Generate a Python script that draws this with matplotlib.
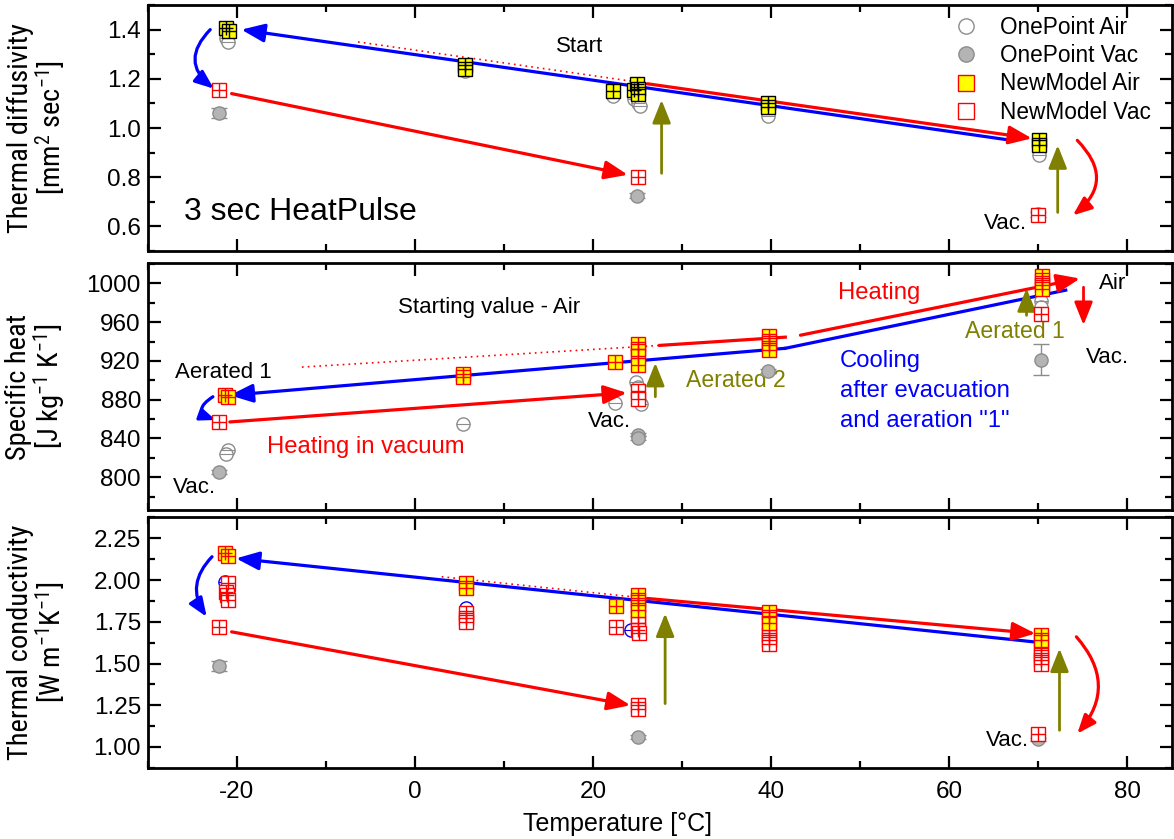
import matplotlib
matplotlib.use("Agg")
import matplotlib.pyplot as plt
from matplotlib import font_manager
from matplotlib.lines import Line2D
from matplotlib.ticker import MultipleLocator, FormatStrFormatter

# ---------------- data ----------------
# thermal diffusivity [mm2/s]
td_opa_x = [-21.2, -21.0, 5.6, 22.3, 24.6, 25.0, 25.3, 39.6, 70.1]
td_opa_y = [1.365, 1.35, 1.23, 1.13, 1.12, 1.10, 1.09, 1.05, 0.89]
td_opv_x = [-22.0, 24.9, 70.0]
td_opv_y = [1.06, 0.725, 0.65]
td_opv_e = [0.02, 0.01, 0.01]
td_nma_x = [-21.2, -20.9, 5.6, 5.6, 22.3, 24.6, 24.9, 25.0, 25.1, 39.6, 39.6, 70.1, 70.1]
td_nma_y = [1.405, 1.395, 1.255, 1.24, 1.15, 1.155, 1.18, 1.16, 1.14, 1.10, 1.085, 0.95, 0.93]
td_nmv_x = [-22.0, 25.0, 70.0]
td_nmv_y = [1.155, 0.80, 0.648]

# specific heat [J/kg/K]
sh_opa_x = [-21.0, -21.2, 5.4, 22.5, 24.8, 25.0, 25.2, 25.4, 70.3, 70.3]
sh_opa_y = [828, 824, 855, 877, 898, 893, 879, 876, 982, 976]
sh_opv_x = [-22.0, 25.0, 25.1, 39.7, 70.3]
sh_opv_y = [805, 844, 840, 910, 921]
sh_opv_e = [2, 2, 2, 2, 16]
sh_nma_x = [-21.3, -21.0, 5.4, 5.4, 22.5, 25.0, 25.1, 25.0, 25.1, 39.8, 39.8, 39.8, 39.8,
            70.4, 70.4, 70.4, 70.4]
sh_nma_y = [885, 883, 906, 903, 919, 937, 932, 925, 916, 946, 941, 936, 931,
            1008, 1003, 998, 994]
sh_nmv_x = [-22.0, 25.1, 25.1, 70.3]
sh_nmv_y = [857, 889, 881, 968]

# thermal conductivity [W/m/K]
tc_opa_x = [-21.3, -21.0, 5.7, 22.6, 24.3, 25.2, 39.8, 39.8, 70.3, 70.3]
tc_opa_y = [1.99, 1.94, 1.83, 1.72, 1.70, 1.68, 1.72, 1.64, 1.54, 1.50]
tc_opv_x = [-22.0, 25.0, 70.0]
tc_opv_y = [1.485, 1.06, 1.045]
tc_opv_e = [0.03, 0.01, 0.01]
tc_nma_x = [-21.3, -21.0, 5.7, 5.7, 22.6, 25.0, 25.0, 25.1, 25.0, 39.8, 39.8, 39.8, 70.3, 70.3]
tc_nma_y = [2.16, 2.145, 1.98, 1.955, 1.845, 1.91, 1.88, 1.85, 1.82, 1.81, 1.78, 1.74, 1.67, 1.64]
tc_nmv_x = [-21.0, -21.2, -21.1, -21.0, -22.0, 5.7, 5.7, 5.7, 22.6, 25.0, 25.1, 25.0, 25.2,
            25.0, 25.0, 39.8, 39.8, 39.8, 39.8, 70.3, 70.3, 70.3, 70.3, 70.0]
tc_nmv_y = [1.98, 1.93, 1.91, 1.88, 1.72, 1.80, 1.77, 1.75, 1.72, 1.78, 1.74, 1.70, 1.68,
            1.25, 1.23, 1.70, 1.67, 1.64, 1.62, 1.58, 1.55, 1.52, 1.50, 1.08]

labels = ["OnePoint Air", "OnePoint Vac", "NewModel Air", "NewModel Vac"]

# ---------------- fonts ----------------
plt.rcParams['font.family'] = ['Liberation Sans', 'DejaVu Sans']
plt.rcParams['axes.unicode_minus'] = False

# the y labels of the original use a narrow face; take one if it is there
names = {f.name for f in font_manager.fontManager.ttflist}
if "Liberation Sans Narrow" in names:
    lab_kw = dict(family="Liberation Sans Narrow", fontsize=21.5)
    math_font = "Liberation Sans Narrow"
elif "Roboto Condensed" in names:
    lab_kw = dict(family="Roboto Condensed", fontsize=20.5)
    math_font = "Roboto Condensed"
else:
    lab_kw = dict(family="Liberation Sans", fontsize=17.5)
    math_font = "Liberation Sans"
plt.rcParams['mathtext.fontset'] = 'custom'
plt.rcParams['mathtext.rm'] = math_font
plt.rcParams['mathtext.it'] = math_font

OLIVE = "#808000"
GREY = "#8c8c8c"


def arrow(ax, x0, y0, x1, y1, color, rad=0.0, lw=2.3, ls="-", ms=20):
    ax.annotate("", xy=(x1, y1), xytext=(x0, y0),
                arrowprops=dict(arrowstyle="-|>,head_length=0.7,head_width=0.28",
                                mutation_scale=ms, color=color, lw=lw, ls=ls,
                                shrinkA=0, shrinkB=0,
                                connectionstyle="arc3,rad=%g" % rad))


def points(ax, opa_x, opa_y, opv_x, opv_y, opv_e, nma_x, nma_y, nmv_x, nmv_y,
           nm_edge="red", op_edge=GREY):
    ms = 9.5
    ax.errorbar(opv_x, opv_y, yerr=opv_e, fmt="o", ms=ms, mfc="#b4b4b4", mec=GREY,
                ecolor=GREY, capsize=6, elinewidth=1, mew=1, zorder=3)
    ax.plot(opa_x, opa_y, "o", ms=ms, mfc="white", mec=op_edge, mew=1, zorder=3)
    ax.plot(opa_x, opa_y, "_", ms=ms, color=op_edge, mew=0.8, zorder=3)
    ax.plot(nmv_x, nmv_y, "s", ms=ms, mfc="white", mec="red", mew=1, zorder=4)
    ax.plot(nmv_x, nmv_y, "+", ms=ms, color="red", mew=1, zorder=4)
    ax.plot(nma_x, nma_y, "s", ms=ms, mfc="yellow", mec=nm_edge, mew=1, zorder=5)
    ax.plot(nma_x, nma_y, "+", ms=ms, color=nm_edge, mew=1, zorder=5)


def style(ax, ylim, major, minor, ylabel, show_x=False):
    ax.set_xlim(-30, 85)
    ax.set_ylim(*ylim)
    ax.xaxis.set_major_locator(MultipleLocator(20))
    ax.xaxis.set_minor_locator(MultipleLocator(10))
    ax.yaxis.set_major_locator(MultipleLocator(major))
    ax.yaxis.set_minor_locator(MultipleLocator(minor))
    ax.tick_params(which="both", direction="in", top=True, right=True, width=1.6,
                   labelsize=17.5, pad=5)
    ax.tick_params(which="major", length=9)
    ax.tick_params(which="minor", length=5)
    if not show_x:
        ax.tick_params(labelbottom=False)
    for s in ax.spines.values():
        s.set_linewidth(2)
    ax.set_ylabel(ylabel, linespacing=1.0, **lab_kw)
    ax.yaxis.set_label_coords(-0.078, 0.5)


fig = plt.figure(figsize=(11.74, 8.39), dpi=100)
ax1 = fig.add_axes([0.126, 0.7008, 0.872, 0.2932])
ax2 = fig.add_axes([0.126, 0.392, 0.872, 0.2945])
ax3 = fig.add_axes([0.126, 0.0846, 0.872, 0.2992])

# ---------------- top: thermal diffusivity ----------------
points(ax1, td_opa_x, td_opa_y, td_opv_x, td_opv_y, td_opv_e,
       td_nma_x, td_nma_y, td_nmv_x, td_nmv_y, nm_edge="black")
ax1.plot([-6.4, 24.4], [1.35, 1.19], color="red", ls=(0, (1, 2.5)), lw=1.2)
arrow(ax1, 67, 0.95, -19.5, 1.40, "blue")
arrow(ax1, 26.1, 1.18, 69.3, 0.958, "red")
arrow(ax1, -20.6, 1.14, 23.9, 0.81, "red")
arrow(ax1, -23.0, 1.40, -22.6, 1.16, "blue", rad=0.55, ms=16)
arrow(ax1, 27.7, 0.816, 27.7, 1.114, OLIVE, lw=2)
arrow(ax1, 72.2, 0.657, 72.2, 0.93, OLIVE, lw=2)
arrow(ax1, 74.4, 0.95, 73.9, 0.645, "red", rad=-0.55, ms=16)
ax1.text(18.5, 1.33, "Start", fontsize=16, ha="center", va="center")
ax1.text(-26, 0.66, "3 sec HeatPulse", fontsize=23, ha="left", va="center")
ax1.text(68.8, 0.612, "Vac.", fontsize=16, ha="right", va="center")
style(ax1, (0.5, 1.5), 0.2, 0.1,
      "Thermal diffusivity\n[mm$^{2}$ sec$^{-1}$]")
ax1.yaxis.set_major_formatter(FormatStrFormatter("%.1f"))

handles = [
    Line2D([], [], ls="", marker="o", ms=11, mfc="white", mec=GREY),
    Line2D([], [], ls="", marker="o", ms=11, mfc="#b4b4b4", mec=GREY),
    Line2D([], [], ls="", marker="s", ms=11, mfc="yellow", mec="red"),
    Line2D([], [], ls="", marker="s", ms=11, mfc="white", mec="red"),
]
ax1.legend(handles, labels, loc="upper right", bbox_to_anchor=(1.0, 1.04),
           frameon=False, fontsize=16.3, labelspacing=0.24, handletextpad=0.9,
           handlelength=1.2)

# ---------------- middle: specific heat ----------------
points(ax2, sh_opa_x, sh_opa_y, sh_opv_x, sh_opv_y, sh_opv_e,
       sh_nma_x, sh_nma_y, sh_nmv_x, sh_nmv_y)
ax2.plot([73.1, 41.6], [993, 933], color="blue", lw=2.3)
arrow(ax2, 41.6, 933, -20.8, 884.5, "blue")
ax2.plot([-12.7, 27.5], [913.6, 936], color="red", ls=(0, (1, 2.5)), lw=1.2)
ax2.plot([27.5, 41.6], [936, 944.5], color="red", lw=2.3)
arrow(ax2, 43.3, 946.5, 74.7, 1005, "red")
arrow(ax2, -20.8, 857, 23.8, 887, "red")
arrow(ax2, -22.7, 883, -22.4, 859, "blue", rad=1.0, ms=13)
arrow(ax2, 27.0, 883, 27.0, 918, OLIVE, lw=2)
arrow(ax2, 68.7, 967, 68.7, 995, OLIVE, lw=2)
arrow(ax2, 75.1, 996, 75.1, 957, "red", lw=2)
ax2.text(-1.9, 975, "Starting value - Air", fontsize=16, ha="left", va="center")
ax2.text(-27.0, 908, "Aerated 1", fontsize=16, ha="left", va="center")
ax2.text(-27.2, 789, "Vac.", fontsize=16, ha="left", va="center")
ax2.text(-16.6, 831, "Heating in vacuum", fontsize=17.2, color="red", ha="left", va="center")
ax2.text(24.3, 857, "Vac.", fontsize=16, ha="right", va="center")
ax2.text(30.5, 900, "Aerated 2", fontsize=16.6, color=OLIVE, ha="left", va="center")
ax2.text(47.5, 990, "Heating", fontsize=17.2, color="red", ha="left", va="center")
ax2.text(47.7, 889, "Cooling\nafter evacuation\nand aeration \"1\"", fontsize=17.2,
         color="blue", ha="left", va="center", linespacing=1.45)
ax2.text(76.8, 1000, "Air", fontsize=16, ha="left", va="center")
ax2.text(61.8, 950, "Aerated 1", fontsize=16.6, color=OLIVE, ha="left", va="center")
ax2.text(75.4, 923, "Vac.", fontsize=16, ha="left", va="center")
style(ax2, (766, 1021), 40, 20,
      "Specific heat\n[J kg$^{-1}$ K$^{-1}$]")

# ---------------- bottom: thermal conductivity ----------------
points(ax3, tc_opa_x, tc_opa_y, tc_opv_x, tc_opv_y, tc_opv_e,
       tc_nma_x, tc_nma_y, tc_nmv_x, tc_nmv_y, op_edge="blue")
ax3.plot([3.0, 24.4], [2.02, 1.90], color="red", ls=(0, (1, 2.5)), lw=1.2)
arrow(ax3, 69.5, 1.63, -20.1, 2.13, "blue")
arrow(ax3, 26.1, 1.89, 69.7, 1.68, "red")
arrow(ax3, -20.6, 1.69, 24.2, 1.25, "red")
arrow(ax3, -22.8, 2.14, -23.4, 1.78, "blue", rad=0.4, ms=16)
arrow(ax3, 28.1, 1.26, 28.1, 1.80, OLIVE, lw=2)
arrow(ax3, 72.4, 1.10, 72.4, 1.59, OLIVE, lw=2)
arrow(ax3, 74.3, 1.66, 74.4, 1.08, "red", rad=-0.43, ms=16)
ax3.text(69.0, 1.04, "Vac.", fontsize=16, ha="right", va="center")
style(ax3, (0.874, 2.378), 0.25, 0.125,
      "Thermal conductivity\n[W m$^{-1}$K$^{-1}$]", show_x=True)
ax3.yaxis.set_major_formatter(FormatStrFormatter("%.2f"))
ax3.tick_params(axis="x", pad=9)
ax3.set_xlabel("Temperature [°C]", fontsize=18, labelpad=0)
ax3.xaxis.set_label_coords(0.459, -0.175)

fig.savefig("out.png", dpi=100)
